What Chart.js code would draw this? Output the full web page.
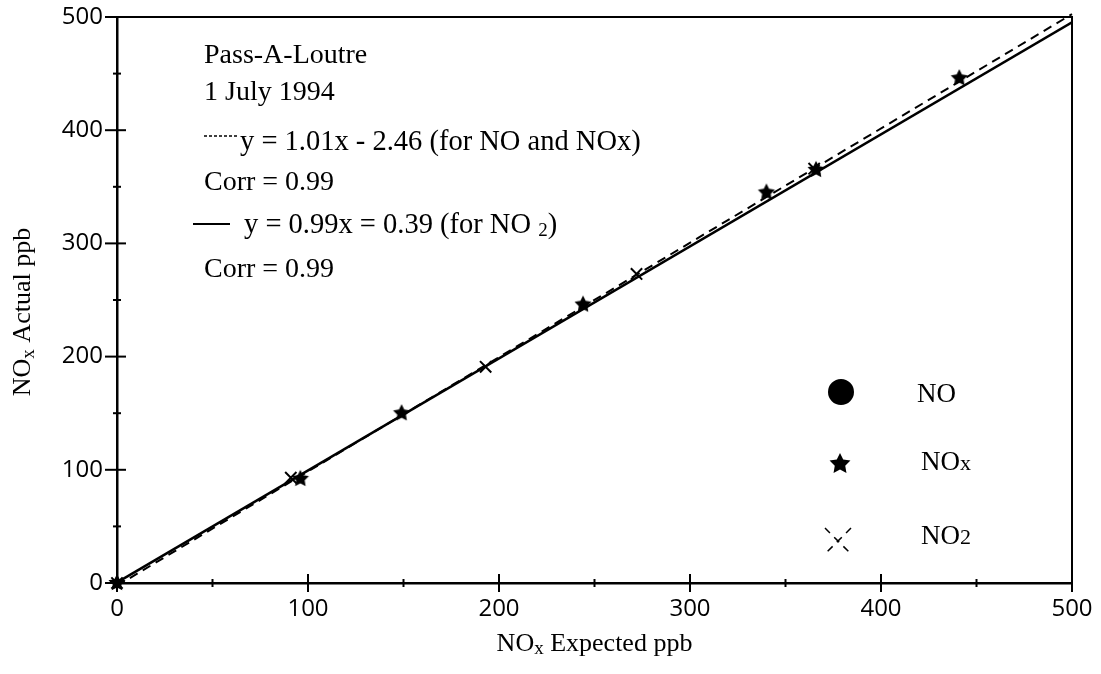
<!DOCTYPE html>
<html>
<head>
<meta charset="utf-8">
<script src="https://cdn.jsdelivr.net/npm/chart.js@4.4.0/dist/chart.umd.min.js"></script>
<style>
    html, body { margin: 0; padding: 0; background: #fff; }
    #wrap { width: 1101px; height: 674px; }
</style>
</head>
<body>
<div id="wrap"><canvas id="noxChart"></canvas></div>
<script>
// values (ppb)
const noxExpected = [0, 96, 149, 244, 340, 366, 441];
const noxActual   = [0, 92, 150, 246, 345, 365, 446];
const no2Expected = [0, 91, 193, 272, 365];
const no2Actual   = [0, 93, 191, 273, 366];
const noExpected  = [];
const noActual    = [];

// regression lines as printed on the chart
const fitX      = [0, 500];
const fitNoNox  = [-2.46, 502.54];   // y = 1.01x - 2.46
const fitNo2    = [0.39, 495.39];    // y = 0.99x + 0.39

const axisMin = 0;
const axisMax = 500;
const majorStep = 100;
const minorStep = 50;

const SERIF = "'Liberation Serif', 'Times New Roman', serif";
const TICKFONT = "'Open Sans', sans-serif";

function pairs(xs, ys) {
    return xs.map((x, i) => ({ x: x, y: ys[i] }));
}

// filled five point star used as the NOx marker
function makeStar(r) {
    const c = document.createElement("canvas");
    const size = Math.ceil(r * 2 + 2);
    c.width = size;
    c.height = size;
    const g = c.getContext("2d");
    g.fillStyle = "#000";
    g.beginPath();
    for (let i = 0; i < 10; i++) {
        const rad = i % 2 === 0 ? r : r * 0.5;
        const a = -Math.PI / 2 + i * Math.PI / 5;
        const px = size / 2 + rad * Math.cos(a);
        const py = size / 2 + rad * Math.sin(a);
        if (i === 0) g.moveTo(px, py); else g.lineTo(px, py);
    }
    g.closePath();
    g.fill();
    return c;
}
const starImg = makeStar(9);
const legendStar = makeStar(11);

// text pieces: [text, size, dy]
function drawParts(ctx, x, y, parts, align) {
    let total = 0;
    parts.forEach(p => {
        ctx.font = p[1] + "px " + SERIF;
        total += ctx.measureText(p[0]).width;
    });
    let cx = align === "center" ? x - total / 2 : x;
    ctx.textAlign = "left";
    ctx.textBaseline = "alphabetic";
    parts.forEach(p => {
        ctx.font = p[1] + "px " + SERIF;
        ctx.fillText(p[0], cx, y + (p[2] || 0));
        cx += ctx.measureText(p[0]).width;
    });
}

const framePlugin = {
    id: "frameTicks",
    beforeDatasetsDraw(chart) {
        const ctx = chart.ctx;
        const a = chart.chartArea;
        const xs = chart.scales.x;
        const ys = chart.scales.y;
        ctx.save();
        ctx.strokeStyle = "#000";
        // top and right edges of the box
        ctx.lineWidth = 2;
        ctx.beginPath();
        ctx.moveTo(a.left, a.top);
        ctx.lineTo(a.right, a.top);
        ctx.lineTo(a.right, a.bottom);
        ctx.stroke();
        // tick marks crossing the axes
        ctx.lineWidth = 2;
        for (let v = axisMin; v <= axisMax; v += minorStep) {
            const major = v % majorStep === 0;
            const px = xs.getPixelForValue(v);
            const hx = major ? 9 : 4;
            ctx.beginPath();
            ctx.moveTo(px, a.bottom - hx);
            ctx.lineTo(px, a.bottom + hx);
            ctx.stroke();
            const py = ys.getPixelForValue(v);
            ctx.beginPath();
            ctx.moveTo(a.left - (major ? 12 : 4), py);
            ctx.lineTo(a.left + (major ? 9 : 4), py);
            ctx.stroke();
        }
        ctx.restore();
    },
    afterDraw(chart) {
        const ctx = chart.ctx;
        const a = chart.chartArea;
        ctx.save();
        ctx.fillStyle = "#000";
        ctx.strokeStyle = "#000";

        // axis titles
        drawParts(ctx, (a.left + a.right) / 2, 651,
            [["NO", 26], ["x", 19, 3], [" Expected ppb", 26]], "center");
        ctx.save();
        ctx.translate(30, 312);
        ctx.rotate(-Math.PI / 2);
        drawParts(ctx, 0, 0, [["NO", 26], ["x", 19, 4], [" Actual ppb", 26]], "center");
        ctx.restore();

        // annotation block
        const tx = 204;
        drawParts(ctx, tx, 63, [["Pass-A-Loutre", 28]]);
        drawParts(ctx, tx, 100, [["1 July 1994", 28]]);
        ctx.lineWidth = 1.5;
        ctx.setLineDash([3, 2]);
        ctx.beginPath();
        ctx.moveTo(tx, 136);
        ctx.lineTo(239, 136);
        ctx.stroke();
        ctx.setLineDash([]);
        drawParts(ctx, 240, 150, [["y = 1.01x - 2.46 (for NO and NOx)", 28.5]]);
        drawParts(ctx, tx, 190, [["Corr = 0.99", 28]]);
        ctx.lineWidth = 2;
        ctx.beginPath();
        ctx.moveTo(193, 224);
        ctx.lineTo(230, 224);
        ctx.stroke();
        drawParts(ctx, 244, 233, [["y = 0.99x = 0.39 (for NO ", 28.5], ["2", 19, 3], [")", 28.5]]);
        drawParts(ctx, tx, 277, [["Corr = 0.99", 28]]);

        // legend
        Chart.helpers.drawPoint(ctx, { pointStyle: "circle", radius: 12, borderWidth: 1 }, 841, 392);
        ctx.fillStyle = "#000";
        drawParts(ctx, 917, 402, [["NO", 27]]);
        ctx.drawImage(legendStar, 840 - legendStar.width / 2, 464 - legendStar.height / 2);
        drawParts(ctx, 921, 470, [["NO", 27], ["x", 22, 0]]);
        ctx.lineWidth = 1.5;
        ctx.setLineDash([7, 6]);
        ctx.beginPath();
        ctx.moveTo(825, 528); ctx.lineTo(851, 554);
        ctx.moveTo(851, 528); ctx.lineTo(825, 554);
        ctx.stroke();
        ctx.setLineDash([]);
        drawParts(ctx, 921, 544, [["NO", 27], ["2", 22, 0]]);
        ctx.restore();
    }
};

new Chart(document.getElementById("noxChart").getContext("2d"), {
    type: "scatter",
    data: {
        datasets: [
            {
                label: "fit NO/NOx",
                type: "line",
                data: pairs(fitX, fitNoNox),
                borderColor: "#000",
                borderWidth: 2,
                borderDash: [9, 6],
                pointRadius: 0,
                fill: false,
                clip: 6
            },
            {
                label: "fit NO2",
                type: "line",
                data: pairs(fitX, fitNo2),
                borderColor: "#000",
                borderWidth: 2.5,
                pointRadius: 0,
                fill: false
            },
            {
                label: "NO",
                data: pairs(noExpected, noActual),
                pointStyle: "circle",
                pointRadius: 8,
                backgroundColor: "#000",
                borderColor: "#000"
            },
            {
                label: "NOx",
                data: pairs(noxExpected, noxActual),
                pointStyle: starImg,
                pointRadius: 9,
                clip: false
            },
            {
                label: "NO2",
                data: pairs(no2Expected, no2Actual),
                pointStyle: "crossRot",
                pointRadius: 8,
                borderColor: "#000",
                borderWidth: 2,
                clip: false
            }
        ]
    },
    options: {
        responsive: true,
        maintainAspectRatio: false,
        animation: false,
        devicePixelRatio: 1,
        layout: { padding: { top: 17, right: 29, left: 0, bottom: 0 } },
        plugins: { legend: { display: false }, tooltip: { enabled: false } },
        scales: {
            x: {
                type: "linear",
                min: axisMin,
                max: axisMax,
                ticks: { stepSize: majorStep, color: "#000", padding: 12, font: { family: TICKFONT, size: 24 } },
                grid: { drawOnChartArea: false, drawTicks: false },
                border: { color: "#000", width: 2.5 },
                afterFit: (s) => { s.height = 91; s.paddingLeft = 0; s.paddingRight = 0; }
            },
            y: {
                type: "linear",
                min: axisMin,
                max: axisMax,
                ticks: { stepSize: majorStep, color: "#000", padding: 14, font: { family: TICKFONT, size: 24 } },
                grid: { drawOnChartArea: false, drawTicks: false },
                border: { color: "#000", width: 2.5 },
                afterFit: (s) => { s.width = 117; s.paddingTop = 0; s.paddingBottom = 0; }
            }
        }
    },
    plugins: [framePlugin]
});
</script>
</body>
</html>
